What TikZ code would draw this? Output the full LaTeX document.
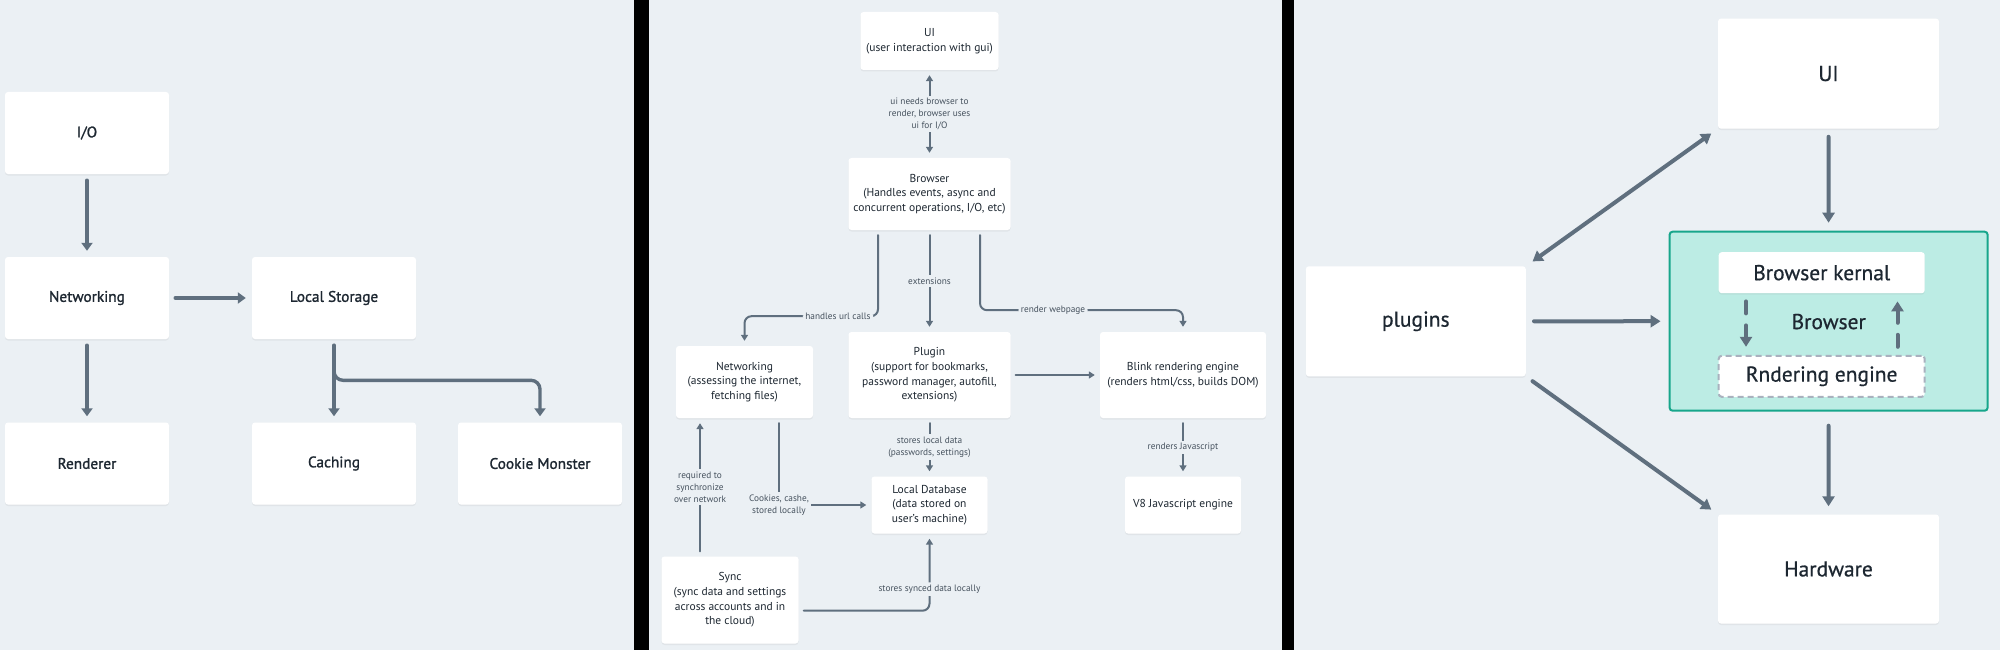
\documentclass[tikz,border=0pt]{standalone}
\usepackage{fontspec}
\setmainfont{PT Sans}
\newfontfamily\medfont[FakeBold=1.3]{PT Sans}
\newfontfamily\semifont[FakeBold=0.6]{PT Sans}
\usetikzlibrary{arrows.meta,shadows}

\definecolor{bgpanel}{HTML}{EBF0F4}
\definecolor{linegray}{HTML}{5F6F7E}
\definecolor{textdark}{HTML}{1D2731}
\definecolor{labelgray}{HTML}{46525E}
\definecolor{tealfill}{HTML}{BCECE4}
\definecolor{tealline}{HTML}{17A68B}
\definecolor{dashgray}{HTML}{A9B1BE}

\begin{document}
\begin{tikzpicture}[x=1pt,y=-1pt,
  card/.style={fill=white,rounded corners=3pt,inner sep=0pt,align=center,text=textdark,
    drop shadow={shadow xshift=0pt,shadow yshift=-1.5pt,opacity=0.10}},
  boxA/.style={card,minimum width=164pt,minimum height=82pt,font=\medfont\fontsize{15.3}{18}\selectfont},
  boxB/.style={card,font=\fontsize{11.5}{14.6}\selectfont},
  boxC/.style={card,font=\semifont\fontsize{21.5}{24}\selectfont},
  dashbox/.style={fill=white,draw=dashgray,line width=2pt,dash pattern=on 6pt off 4pt,
    rounded corners=3pt,inner sep=0pt,text=textdark,font=\semifont\fontsize{21.5}{24}\selectfont},
  contbox/.style={fill=tealfill,draw=tealline,line width=2pt,rounded corners=3pt,inner sep=0pt},
  lab/.style={fill=bgpanel,text=labelgray,font=\fontsize{9.3}{12}\selectfont,align=center,inner sep=2.5pt},
  lineA/.style={draw=linegray,line width=3.4pt,line cap=round,>={Triangle[width=11pt,length=8pt]},
    shorten <=6pt,shorten >=6pt},
  lineB/.style={draw=linegray,line width=2pt,line cap=round,>={Triangle[width=7pt,length=6pt]},
    shorten <=5pt,shorten >=5pt},
  lineC/.style={draw=linegray,line width=4pt,line cap=round,>={Triangle[width=12pt,length=10pt]},
    shorten <=8pt,shorten >=8pt}]
\useasboundingbox (0,0) rectangle (2000,650);
\fill[bgpanel] (0,0) rectangle (2000,650);
\fill[black] (634,0) rectangle (649,650);
\fill[black] (1282,0) rectangle (1294,650);

\foreach \n/\x/\y/\t in {io/87/133/{I/O},netA/87/298/Networking,rend/87/463.5/Renderer,
  stor/334/298/Local Storage,cach/334/463.5/Caching,cook/540/463.5/Cookie Monster}
  \node[boxA] (\n) at (\x,\y) {\t};

\draw[lineA,->] (io) -- (netA);
\draw[lineA,->] (netA) -- (stor);
\draw[lineA,->] (netA) -- (rend);
\draw[lineA,->] (stor) -- (cach);
\draw[lineA,->,rounded corners=9pt] (stor.south) |- ([yshift=42pt]cook.north) -- (cook.north);

\node[boxB,minimum width=138pt,minimum height=58pt] (uiB) at (929.5,41) {UI\\(user interaction with gui)};
\node[boxB,minimum width=162pt,minimum height=72pt] (brow) at (929.5,194) {Browser\\(Handles events, async and\\concurrent operations, I/O, etc)};
\node[boxB,minimum width=137pt,minimum height=72pt] (netB) at (744.5,382) {Networking\\(assessing the internet,\\fetching files)};
\node[boxB,minimum width=162pt,minimum height=86pt] (plug) at (929.5,375) {Plugin\\(support for bookmarks,\\password manager, autofill,\\extensions)};
\node[boxB,minimum width=166pt,minimum height=86pt] (blink) at (1183,375) {Blink rendering engine\\(renders html/css, builds DOM)};
\node[boxB,minimum width=116pt,minimum height=57pt] (ldb) at (929.5,505) {Local Database\\(data stored on\\user's machine)};
\node[boxB,minimum width=116pt,minimum height=57pt] (veight) at (1183,505) {V8 Javascript engine};
\node[boxB,minimum width=137pt,minimum height=87pt] (sync) at (730,600) {Sync\\(sync data and settings\\across accounts and in\\the cloud)};
\coordinate (syncup) at ([xshift=-30pt]sync.north);

\draw[lineB,<->] (uiB) -- node[lab]{ui needs browser to\\render, browser uses\\ui for I/O} (brow);
\draw[lineB,->,rounded corners=7pt] ([xshift=-51.5pt]brow.south) -- ++(0,86) -| node[lab,pos=0.15]{handles url calls} (netB.north);
\draw[lineB,->] (brow) -- node[lab]{extensions} (plug);
\draw[lineB,->,rounded corners=7pt] ([xshift=50.5pt]brow.south) -- ++(0,80) -| node[lab,pos=0.18]{render webpage} (blink.north);
\draw[lineB,->] (plug) -- (blink);
\draw[lineB,->] (plug) -- node[lab]{stores local data\\(passwords, settings)} (ldb);
\draw[lineB,->] (blink) -- node[lab]{renders Javascript} (veight);
\draw[lineB,->] ([xshift=34.5pt]netB.south) |- node[lab]{Cookies, cashe,\\stored locally} (ldb.west);
\draw[lineB,->] (syncup) -- node[lab]{required to\\synchronize\\over network} (syncup |- netB.south);
\draw[lineB,->,rounded corners=7pt] ([yshift=-10.7pt]sync.east) -| node[lab,pos=0.64]{stores synced data locally} (ldb.south);

\node[contbox,minimum width=318pt,minimum height=179pt] (cont) at (1828.6,321.2) {};
\node[boxC,minimum width=221pt,minimum height=110pt] (uiC) at (1828.5,73.6) {UI};
\node[boxC,minimum width=221pt,minimum height=109pt] (hw) at (1828.5,569) {Hardware};
\node[boxC,minimum width=220pt,minimum height=110pt] (plg) at (1415.8,321.3) {plugins};
\node[boxC,minimum width=206pt,minimum height=41pt] (kern) at (1821.7,272.7) {Browser kernal};
\node[dashbox,minimum width=206pt,minimum height=41pt] (rnd) at (1821.7,376.3) {Rndering engine};
\node[text=textdark,font=\semifont\fontsize{21.5}{24}\selectfont] (browlab) at (1828.7,321.6) {Browser};

\draw[lineC,->] (uiC) -- (cont);
\draw[lineC,->,shorten <=14pt] (cont) -- (hw);
\draw[lineC,->] (plg) -- (cont);
\draw[lineC,<->] (plg.north east) -- (uiC.south west);
\draw[lineC,->] (plg.south east) -- (hw.north west);
\draw[lineC,->,dash pattern=on 12pt off 12pt] ([xshift=-75.7pt]kern.south) -- ([xshift=-75.7pt]rnd.north);
\draw[lineC,->,dash pattern=on 12pt off 12pt] ([xshift=75.8pt]rnd.north) -- ([xshift=75.8pt]kern.south);
\end{tikzpicture}
\end{document}
